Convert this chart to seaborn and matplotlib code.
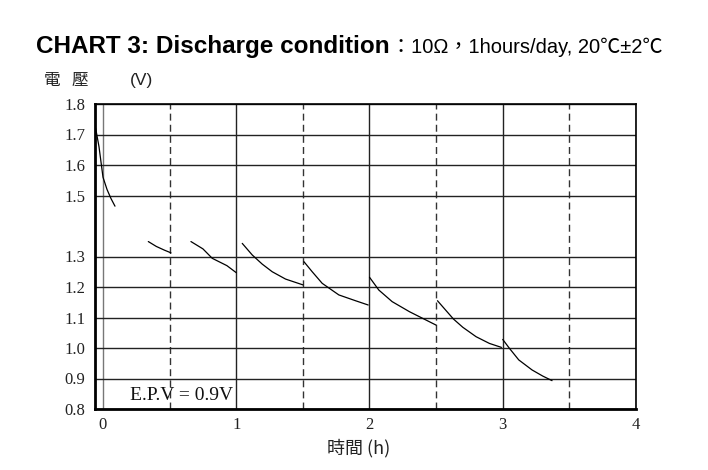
import matplotlib
matplotlib.use("Agg")
import matplotlib.pyplot as plt
import seaborn as sns
import pandas as pd
from matplotlib.ticker import FixedLocator

# ---- data ----
time_h = [-0.055, -0.03, 0.0, 0.03, 0.06, 0.09,
          0.34, 0.40, 0.46, 0.51,
          0.66, 0.75, 0.82, 0.93, 1.0,
          1.045, 1.12, 1.195, 1.27, 1.37, 1.50,
          1.508, 1.57, 1.645, 1.77, 1.895, 1.99,
          2.0, 2.07, 2.17, 2.30, 2.40, 2.50,
          2.51, 2.56, 2.63, 2.70, 2.80, 2.90, 2.99,
          3.0, 3.05, 3.12, 3.22, 3.30, 3.37]
voltage = [1.72, 1.66, 1.56, 1.52, 1.49, 1.465,
           1.349, 1.333, 1.321, 1.312,
           1.349, 1.325, 1.294, 1.27, 1.247,
           1.343, 1.305, 1.275, 1.25, 1.226, 1.207,
           1.283, 1.25, 1.212, 1.174, 1.155, 1.141,
           1.232, 1.19, 1.152, 1.119, 1.097, 1.075,
           1.155, 1.13, 1.095, 1.068, 1.037, 1.015, 1.002,
           1.028, 0.999, 0.961, 0.928, 0.908, 0.893]
segment = [1]*6 + [2]*4 + [3]*5 + [4]*6 + [5]*6 + [6]*6 + [7]*7 + [8]*6

x_major = [0, 1, 2, 3, 4]
x_minor = [0.5, 1.5, 2.5, 3.5]
x_labels = ["0", "1", "2", "3", "4"]
y_ticks = [0.8, 0.9, 1.0, 1.1, 1.2, 1.3, 1.5, 1.6, 1.7, 1.8]
y_labels = ["0.8", "0.9", "1.0", "1.1", "1.2", "1.3", "1.5", "1.6", "1.7", "1.8"]

title_bold = "CHART 3: Discharge condition"
title_rest = "：10Ω，1hours/day, 20℃±2℃"
y_title_parts = ["電", "壓", "(V)"]
x_title = "時間 (h)"
note = "E.P.V = 0.9V"

df = pd.DataFrame({"t": time_h, "v": voltage, "seg": segment})

sns.set_theme(style="white")
plt.rcParams['font.family'] = ['Liberation Sans', 'Noto Sans CJK TC', 'DejaVu Sans']

W, H = 708, 470
fig = plt.figure(figsize=(W/100, H/100), dpi=100)
ax = fig.add_axes([95/W, 1-409/H, (636-95)/W, (409-104)/H])

sns.lineplot(data=df, x="t", y="v", units="seg", estimator=None,
             color="black", linewidth=0.9, ax=ax, zorder=3)

ax.set_xlim(-0.06, 4.0)
ax.set_ylim(0.8, 1.8)
ax.xaxis.set_major_locator(FixedLocator(x_major))
ax.xaxis.set_minor_locator(FixedLocator(x_minor))
ax.set_xticklabels(x_labels)
ax.yaxis.set_major_locator(FixedLocator(y_ticks))
ax.set_yticklabels(y_labels)

ax.grid(which="major", axis="y", color="#222222", linewidth=1.0, linestyle="-")
ax.grid(which="major", axis="x", color="#222222", linewidth=1.0, linestyle="-")
ax.grid(which="minor", axis="x", color="#333333", linewidth=1.0, linestyle=(0, (5, 3)))
ax.set_axisbelow(True)
# the line at x = 0 is lighter in the reference
ax.get_xgridlines()[0].set_color("#777777")

for side in ["left", "bottom"]:
    ax.spines[side].set_linewidth(2.0)
    ax.spines[side].set_color("black")
for side in ["right", "top"]:
    ax.spines[side].set_linewidth(1.2)
    ax.spines[side].set_color("black")

ax.tick_params(axis="both", which="both", length=0)
ax.tick_params(axis="y", pad=7)
ax.tick_params(axis="x", pad=6)
for lab in ax.get_xticklabels() + ax.get_yticklabels():
    lab.set_fontfamily(["Liberation Serif", "DejaVu Serif"])
    lab.set_fontsize(12)
    lab.set_color("#222222")

ax.set_xlabel("")
ax.set_ylabel("")

ax.text(0.2, 0.845, note, fontsize=14, va="center", ha="left",
        family=["Liberation Serif", "DejaVu Serif"], color="#111111")

fig.text(359/W, 1-448/H, x_title, fontsize=13, ha="center", va="center",
         family=['Noto Sans CJK TC', 'DejaVu Sans'], color="#222222")
for px, part in zip([44, 72, 130], y_title_parts):
    fig.text(px/W, 1-80/H, part, fontsize=12 if part != "(V)" else 12.5,
             ha="left", va="center",
             family=['Noto Sans CJK TC', 'DejaVu Sans'] if part != "(V)"
             else ['Liberation Sans', 'DejaVu Sans'], color="#222222")

t1 = fig.text(36/W, 1-53/H, title_bold, fontsize=17.5, fontweight="bold",
              ha="left", va="baseline",
              family=['Liberation Sans', 'DejaVu Sans'], color="black")
fig.canvas.draw()
bb = t1.get_window_extent(renderer=fig.canvas.get_renderer())
fig.text(bb.x1/W + 1/W, 1-53/H, title_rest, fontsize=14.5,
         ha="left", va="baseline",
         family=['Liberation Sans', 'Noto Sans CJK TC', 'DejaVu Sans'], color="black")

fig.savefig("out.png", dpi=100)
